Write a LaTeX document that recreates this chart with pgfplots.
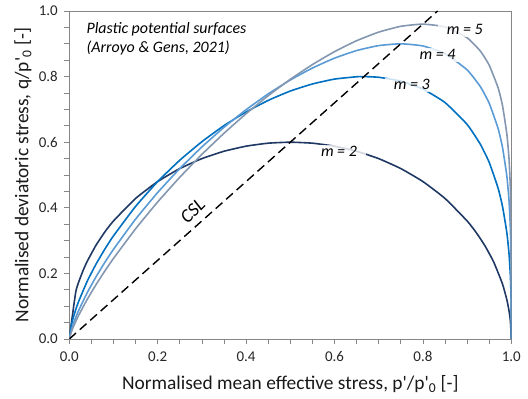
\documentclass[border=0pt]{standalone}
\usepackage{pgfplots}
\pgfplotsset{compat=1.18}
\usepackage{fontspec}
\setmainfont{Carlito}
\definecolor{cmtwo}{RGB}{31,56,100}
\definecolor{cmthree}{RGB}{0,112,192}
\definecolor{cmfour}{RGB}{91,155,213}
\definecolor{cmfive}{RGB}{132,151,176}
\definecolor{axgray}{RGB}{134,134,134}
\begin{document}
\begin{tikzpicture}
\begin{axis}[
  scale only axis, width=442bp, height=328bp,
  xmin=0, xmax=1, ymin=0, ymax=1,
  xtick={0,0.2,0.4,0.6,0.8,1}, ytick={0,0.2,0.4,0.6,0.8,1},
  xticklabels={0.0,0.2,0.4,0.6,0.8,1.0},
  yticklabels={0.0,0.2,0.4,0.6,0.8,1.0},
  minor tick num=3,
  tick align=outside, tick pos=left,
  major tick length=5bp, minor tick length=5bp,
  every tick/.style={axgray, line width=0.8bp},
  axis line style={axgray, line width=0.9bp},
  tick label style={font=\fontsize{15}{17}\selectfont, color=black!85},
  xticklabel style={yshift=-4bp},
  yticklabel style={xshift=-3bp},
  label style={font=\fontsize{19.5}{22}\selectfont, color=black!90},
  xlabel={Normalised mean effective stress, p\textquotesingle/p\textquotesingle\textsubscript{0} [-]},
  ylabel={Normalised deviatoric stress, q/p\textquotesingle\textsubscript{0} [-]},
  xlabel style={at={(axis description cs:0.5,-0.136)}, anchor=center},
  ylabel style={at={(axis description cs:-0.105,0.5)}, anchor=center},
  every axis plot/.append style={line width=1.6bp, smooth, tension=0.3},
]
\addplot[cmtwo] coordinates {
(0,0) (0.015,0.146) (0.03,0.2047) (0.04,0.2352) (0.06,0.285) (0.08,0.3256) (0.1,0.36)
(0.15,0.4285) (0.2,0.48) (0.25,0.5196) (0.3,0.5499) (0.35,0.5724) (0.4,0.5879)
(0.45,0.597) (0.5,0.6) (0.55,0.597) (0.6,0.5879) (0.65,0.5724) (0.7,0.5499)
(0.75,0.5196) (0.8,0.48) (0.85,0.4285) (0.9,0.36) (0.92,0.3256) (0.94,0.285)
(0.96,0.2352) (0.98,0.168) (0.99,0.1194) (0.995,0.0846) (0.998,0.0536) (1,0)
};
\addplot[cmthree] coordinates {
(0,0) (0.005,0.0441) (0.01,0.0699) (0.02,0.1106) (0.04,0.1744) (0.06,0.2271)
(0.08,0.273) (0.1,0.3145) (0.15,0.4043) (0.2,0.48) (0.25,0.5451) (0.3,0.6015)
(0.35,0.6506) (0.4,0.6922) (0.45,0.7274) (0.5,0.756) (0.55,0.7775) (0.6,0.7924)
(0.65,0.7995) (0.6667,0.8) (0.7,0.7979) (0.75,0.7862) (0.8,0.7619) (0.85,0.7209)
(0.9,0.6542) (0.93,0.5936) (0.95,0.5384) (0.97,0.4604) (0.98,0.4048) (0.99,0.3235)
(0.995,0.2577) (0.998,0.1903) (0.9995,0.1199) (1,0)
};
\addplot[cmfour] coordinates {
(0,0) (0.005,0.0297) (0.01,0.0498) (0.02,0.0836) (0.04,0.1398) (0.06,0.1885)
(0.08,0.2327) (0.1,0.2735) (0.15,0.3655) (0.2,0.4467) (0.25,0.5196) (0.3,0.5856)
(0.35,0.6453) (0.4,0.6991) (0.45,0.7473) (0.5,0.7896) (0.55,0.8261) (0.6,0.8562)
(0.65,0.8794) (0.7,0.8945) (0.75,0.9) (0.8,0.8934) (0.85,0.8701) (0.9,0.8206)
(0.93,0.7693) (0.95,0.7187) (0.97,0.6424) (0.98,0.585) (0.99,0.4957)
(0.995,0.4184) (0.998,0.3335) (0.9995,0.2359) (0.99995,0.1328) (1,0)
};
\addplot[cmfive] coordinates {
(0,0) (0.005,0.0228) (0.01,0.0397) (0.02,0.069) (0.04,0.1196) (0.06,0.1647)
(0.08,0.2065) (0.1,0.2457) (0.15,0.336) (0.2,0.4179) (0.25,0.4931) (0.3,0.5628)
(0.35,0.6272) (0.4,0.6869) (0.45,0.7417) (0.5,0.7917) (0.55,0.8366) (0.6,0.876)
(0.65,0.9094) (0.7,0.9356) (0.75,0.9533) (0.8,0.96) (0.85,0.9514) (0.9,0.9183)
(0.93,0.8778) (0.95,0.8348) (0.97,0.7664) (0.98,0.7125) (0.99,0.624)
(0.995,0.5466) (0.998,0.4561) (0.9995,0.3459) (0.99995,0.2185) (0.999995,0.1379) (1,0)
};
\addplot[black, line width=1.4bp, dash pattern=on 9bp off 5bp, smooth=false] coordinates {(0,0) (0.8333,1)};
\node[rotate=45, font=\fontsize{19}{21}\selectfont\itshape] at (axis cs:0.279,0.39) {CSL};
\node[anchor=base west, font=\fontsize{16}{18}\selectfont\itshape] at (axis cs:0.031,0.931) {Plastic potential surfaces};
\node[anchor=base west, font=\fontsize{16}{18}\selectfont\itshape] at (axis cs:0.031,0.873) {(Arroyo \& Gens, 2021)};
\tikzset{mlab/.style={fill=white, fill opacity=0.8, text opacity=1, inner xsep=9bp, inner ysep=2bp, font=\fontsize{16}{18}\selectfont\itshape}}
\node[mlab] at (axis cs:0.610,0.571) {m = 2};
\node[mlab] at (axis cs:0.775,0.775) {m = 3};
\node[mlab] at (axis cs:0.833,0.867) {m = 4};
\node[mlab] at (axis cs:0.895,0.943) {m = 5};
\end{axis}
\path ([shift={(-69.3bp,-60bp)}]current axis.south west) rectangle ([shift={(16.7bp,11bp)}]current axis.north east);
\end{tikzpicture}
\end{document}
